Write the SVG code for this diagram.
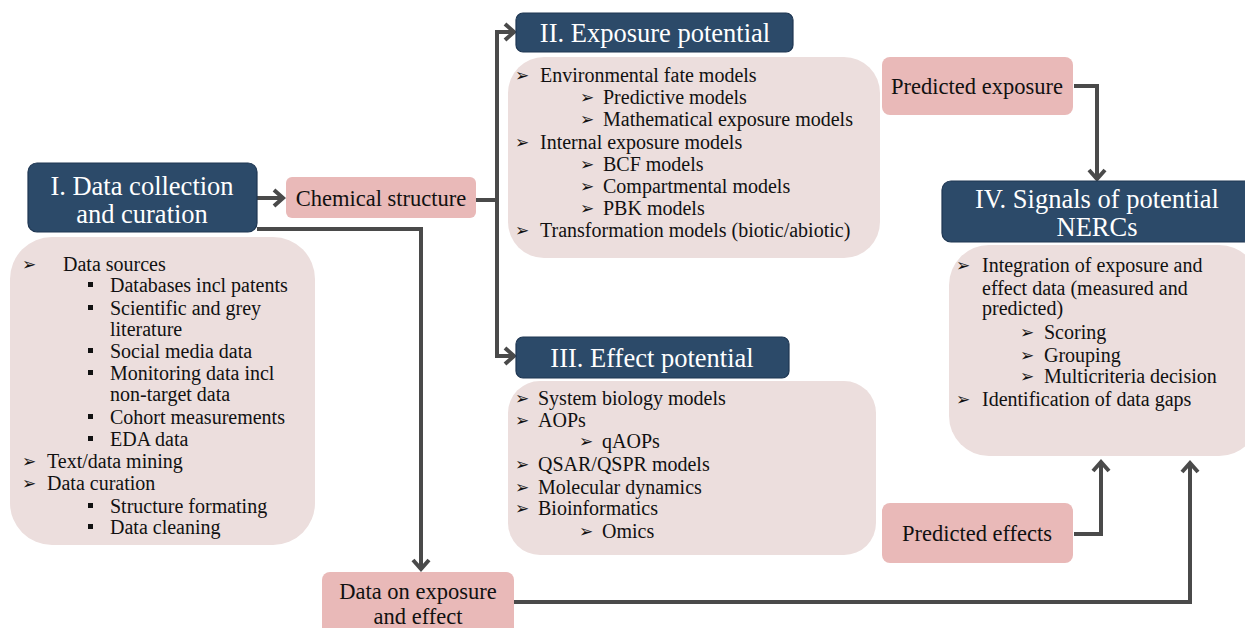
<svg xmlns="http://www.w3.org/2000/svg" width="1245" height="628" viewBox="0 0 1245 628">
<style>
.hdr{fill:#2c4a69;stroke:#1e3652;stroke-width:1.2}
.pink{fill:#e9b9b8}
.light{fill:#ecdedd}
.ht{font-family:"Liberation Serif","Times New Roman",serif;fill:#ffffff;font-size:26.5px;text-anchor:middle}
.pt{font-family:"Liberation Serif","Times New Roman",serif;fill:#111;font-size:22.5px;text-anchor:middle}
.t{font-family:"Liberation Serif","Times New Roman",serif;fill:#111;font-size:20px}
.b{font-family:"DejaVu Sans",sans-serif;fill:#111;font-size:17px}
.sq{fill:#111}
.conn{fill:none;stroke:#4a4a4a;stroke-width:4}
</style>
<defs>
<marker id="ah" markerUnits="userSpaceOnUse" markerWidth="16" markerHeight="20" refX="12" refY="10" orient="auto" viewBox="0 0 16 20">
<path d="M3,2 L12,10 L3,18" fill="none" stroke="#4a4a4a" stroke-width="4"/>
</marker>
</defs>

<g id="connectors">
<path class="conn" d="M257,198 H283" marker-end="url(#ah)"/>
<path class="conn" d="M257,229 H421 V569" marker-end="url(#ah)"/>
<path class="conn" d="M476,200 H497"/>
<path class="conn" d="M497,355 V32 H514" marker-end="url(#ah)"/>
<path class="conn" d="M497,200 V356 H514" marker-end="url(#ah)"/>
<path class="conn" d="M1074,86 H1097 V179" marker-end="url(#ah)"/>
<path class="conn" d="M1074,534 H1101 V462" marker-end="url(#ah)"/>
<path class="conn" d="M514,602 H1190 V463" marker-end="url(#ah)"/>
</g>

<g id="n1">
<rect class="hdr" x="28" y="163" width="229" height="69" rx="9"/>
<text class="ht" x="142" y="195">I. Data collection</text>
<text class="ht" x="142" y="223">and curation</text>
</g>

<g id="n1c">
<rect class="light" x="10" y="237" width="305" height="308" rx="42"/>
<text class="b" x="22" y="270">➢</text><text class="t" x="63" y="271">Data sources</text>
<rect class="sq" x="88" y="282" width="5" height="5"/><text class="t" x="110" y="292">Databases incl patents</text>
<rect class="sq" x="88" y="305" width="5" height="5"/><text class="t" x="110" y="315">Scientific and grey</text>
<text class="t" x="110" y="336">literature</text>
<rect class="sq" x="88" y="348" width="5" height="5"/><text class="t" x="110" y="358">Social media data</text>
<rect class="sq" x="88" y="370" width="5" height="5"/><text class="t" x="110" y="380">Monitoring data incl</text>
<text class="t" x="110" y="401">non-target data</text>
<rect class="sq" x="88" y="414" width="5" height="5"/><text class="t" x="110" y="424">Cohort measurements</text>
<rect class="sq" x="88" y="436" width="5" height="5"/><text class="t" x="110" y="446">EDA data</text>
<text class="b" x="22" y="467">➢</text><text class="t" x="47" y="468">Text/data mining</text>
<text class="b" x="22" y="489">➢</text><text class="t" x="47" y="490">Data curation</text>
<rect class="sq" x="88" y="503" width="5" height="5"/><text class="t" x="110" y="513">Structure formating</text>
<rect class="sq" x="88" y="524" width="5" height="5"/><text class="t" x="110" y="534">Data cleaning</text>
</g>

<g id="chem">
<rect class="pink" x="286" y="177" width="190" height="41" rx="6"/>
<text class="pt" x="381" y="206">Chemical structure</text>
</g>

<g id="n2">
<rect class="hdr" x="516" y="13" width="277" height="39" rx="7"/>
<text class="ht" x="655" y="42">II. Exposure potential</text>
</g>

<g id="n2c">
<rect class="light" x="508" y="57" width="372" height="201" rx="36"/>
<text class="b" x="515" y="81">➢</text><text class="t" x="540" y="82">Environmental fate models</text>
<text class="b" x="580" y="103">➢</text><text class="t" x="603" y="104">Predictive models</text>
<text class="b" x="580" y="125">➢</text><text class="t" x="603" y="126">Mathematical exposure models</text>
<text class="b" x="515" y="148">➢</text><text class="t" x="540" y="149">Internal exposure models</text>
<text class="b" x="580" y="170">➢</text><text class="t" x="603" y="171">BCF models</text>
<text class="b" x="580" y="192">➢</text><text class="t" x="603" y="193">Compartmental models</text>
<text class="b" x="580" y="214">➢</text><text class="t" x="603" y="215">PBK models</text>
<text class="b" x="515" y="236">➢</text><text class="t" x="540" y="237">Transformation models (biotic/abiotic)</text>
</g>

<g id="pexp">
<rect class="pink" x="882" y="57" width="191" height="58" rx="8"/>
<text class="pt" x="977" y="94">Predicted exposure</text>
</g>

<g id="n3">
<rect class="hdr" x="516" y="337" width="273" height="41" rx="7"/>
<text class="ht" x="652" y="367">III. Effect potential</text>
</g>

<g id="n3c">
<rect class="light" x="508" y="381" width="368" height="174" rx="32"/>
<text class="b" x="515" y="404">➢</text><text class="t" x="538" y="405">System biology models</text>
<text class="b" x="515" y="426">➢</text><text class="t" x="538" y="427">AOPs</text>
<text class="b" x="579" y="447">➢</text><text class="t" x="602" y="448">qAOPs</text>
<text class="b" x="515" y="470">➢</text><text class="t" x="538" y="471">QSAR/QSPR models</text>
<text class="b" x="515" y="493">➢</text><text class="t" x="538" y="494">Molecular dynamics</text>
<text class="b" x="515" y="514">➢</text><text class="t" x="538" y="515">Bioinformatics</text>
<text class="b" x="579" y="537">➢</text><text class="t" x="602" y="538">Omics</text>
</g>

<g id="peff">
<rect class="pink" x="882" y="503" width="191" height="60" rx="8"/>
<text class="pt" x="977" y="541">Predicted effects</text>
</g>

<g id="n4">
<rect class="hdr" x="942" y="181" width="310" height="61" rx="9"/>
<text class="ht" x="1097" y="208">IV. Signals of potential</text>
<text class="ht" x="1097" y="236">NERCs</text>
</g>

<g id="n4c">
<rect class="light" x="949" y="245" width="310" height="211" rx="40"/>
<text class="b" x="956" y="271">➢</text><text class="t" x="982" y="272">Integration of exposure and</text>
<text class="t" x="982" y="295">effect data (measured and</text>
<text class="t" x="982" y="315">predicted)</text>
<text class="b" x="1020" y="338">➢</text><text class="t" x="1044" y="339">Scoring</text>
<text class="b" x="1020" y="361">➢</text><text class="t" x="1044" y="362">Grouping</text>
<text class="b" x="1020" y="382">➢</text><text class="t" x="1044" y="383">Multicriteria decision</text>
<text class="b" x="956" y="405">➢</text><text class="t" x="982" y="406">Identification of data gaps</text>
</g>

<g id="data">
<rect class="pink" x="322" y="572" width="192" height="66" rx="8"/>
<text class="pt" x="418" y="599">Data on exposure</text>
<text class="pt" x="418" y="624">and effect</text>
</g>
</svg>
